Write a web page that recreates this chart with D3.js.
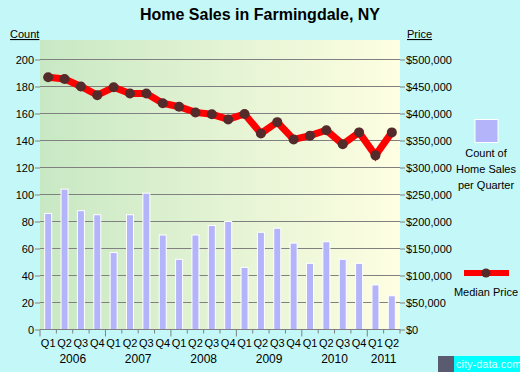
<!DOCTYPE html>
<html>
<head>
<meta charset="utf-8">
<script src="https://cdn.jsdelivr.net/npm/d3@7"></script>
<style>
  html, body { margin: 0; padding: 0; background: #c4f8f8; }
  svg { display: block; font-family: "Liberation Sans", Arimo, sans-serif; }
</style>
</head>
<body>
<svg id="chart" width="520" height="372"></svg>
<script>
const years = ['2006', '2007', '2008', '2009', '2010', '2011'];
const periods = [
  '2006Q1', '2006Q2', '2006Q3', '2006Q4',
  '2007Q1', '2007Q2', '2007Q3', '2007Q4',
  '2008Q1', '2008Q2', '2008Q3', '2008Q4',
  '2009Q1', '2009Q2', '2009Q3', '2009Q4',
  '2010Q1', '2010Q2', '2010Q3', '2010Q4',
  '2011Q1', '2011Q2'
];
const salesCount = [86, 104, 88, 85, 57, 85, 101, 70, 52, 70, 77, 80,
  46, 72, 75, 64, 49, 65, 52, 49, 33, 25];
const medianPrice = [467000, 464000, 450000, 434000, 448500, 437000, 437000, 419000,
  412500, 402000, 398500, 389000, 399000, 363000, 384000, 352000, 359000, 369000,
  343000, 365000, 322500, 365000];
const countTicks = [0, 20, 40, 60, 80, 100, 120, 140, 160, 180, 200];
const priceTicks = [0, 50000, 100000, 150000, 200000, 250000, 300000, 350000, 400000, 450000, 500000];

const svg = d3.select('#chart');
const plot = {left: 40, right: 400, top: 40, bottom: 329.5};

const x = d3.scaleBand()
  .domain(periods)
  .range([plot.left, plot.right]);

const y = d3.scaleLinear()
  .domain([0, 200])
  .range([plot.bottom, 59.5]);

const yPrice = d3.scaleLinear()
  .domain([0, 500000])
  .range([plot.bottom, 59.5]);

// background gradient
const defs = svg.append('defs');
const grad = defs.append('linearGradient').attr('id', 'bg').attr('x1', 0).attr('x2', 1).attr('y1', 0).attr('y2', 0);
grad.append('stop').attr('offset', '0%').attr('stop-color', '#c8e8c4');
grad.append('stop').attr('offset', '100%').attr('stop-color', '#fefee2');

svg.append('rect')
  .attr('x', plot.left)
  .attr('y', plot.top)
  .attr('width', plot.right - plot.left)
  .attr('height', plot.bottom - plot.top)
  .style('fill', 'url(#bg)');

// title
svg.append('text')
  .attr('x', 260)
  .attr('y', 20)
  .attr('text-anchor', 'middle')
  .style('font-size', '16px')
  .style('font-weight', 'bold')
  .text('Home Sales in Farmingdale, NY');

svg.append('text').attr('x', 10).attr('y', 38).style('font-size', '11px')
  .style('text-decoration', 'underline').text('Count');
svg.append('text').attr('x', 407).attr('y', 38).style('font-size', '11px')
  .style('text-decoration', 'underline').text('Price');

// left axis
const leftAxis = d3.axisLeft(y).tickValues(countTicks).tickSize(5).tickPadding(1);
const gl = svg.append('g').attr('transform', 'translate(' + plot.left + ',0)').call(leftAxis);
gl.select('.domain').remove();
gl.selectAll('line').attr('stroke', '#808080');
gl.selectAll('text').style('font-size', '11px').attr('fill', '#000');

// right axis
const rightAxis = d3.axisRight(yPrice).tickValues(priceTicks).tickSize(5).tickPadding(1)
  .tickFormat(d => '$' + d3.format(',')(d));
const gr = svg.append('g').attr('transform', 'translate(' + plot.right + ',0)').call(rightAxis);
gr.select('.domain').remove();
gr.selectAll('line').attr('stroke', '#808080');
gr.selectAll('text').style('font-size', '11px').attr('fill', '#000');

// grid lines
svg.append('g').selectAll('line')
  .data(countTicks.slice(1))
  .enter().append('line')
  .attr('x1', plot.left)
  .attr('x2', plot.right)
  .attr('y1', d => y(d))
  .attr('y2', d => y(d))
  .attr('stroke', '#808080')
  .attr('stroke-width', 1.2);

// bars
const barW = 7;
svg.append('g').selectAll('rect')
  .data(salesCount)
  .enter().append('rect')
  .attr('x', (d, i) => x(periods[i]) + x.bandwidth() / 2 - barW / 2)
  .attr('y', d => y(d))
  .attr('width', barW)
  .attr('height', d => y(0) - y(d))
  .style('fill', '#b4b4fa')
  .style('stroke', '#ffffff')
  .style('stroke-width', 1);

// baseline
svg.append('line')
  .attr('x1', plot.left).attr('x2', plot.right)
  .attr('y1', y(0)).attr('y2', y(0))
  .attr('stroke', '#808080').attr('stroke-width', 1.2);

// x ticks at quarter boundaries
const bounds = periods.map(p => x(p)).concat([plot.right]);
svg.append('g').selectAll('line')
  .data(bounds)
  .enter().append('line')
  .attr('x1', d => d).attr('x2', d => d)
  .attr('y1', y(0))
  .attr('y2', (d, i) => y(0) + (i % 4 === 0 ? 7 : 4))
  .attr('stroke', '#808080');

// quarter labels
svg.append('g').selectAll('text')
  .data(periods)
  .enter().append('text')
  .attr('x', d => x(d) + x.bandwidth() / 2)
  .attr('y', 347)
  .attr('text-anchor', 'middle')
  .style('font-size', '11px')
  .text(d => d.slice(4));

// year labels
svg.append('g').selectAll('text')
  .data(years)
  .enter().append('text')
  .attr('x', d => {
    const qs = periods.filter(p => p.startsWith(d));
    return (x(qs[0]) + x(qs[qs.length - 1]) + x.bandwidth()) / 2;
  })
  .attr('y', 363)
  .attr('text-anchor', 'middle')
  .style('font-size', '12px')
  .text(d => d);

// price line
const line = d3.line()
  .x((d, i) => x(periods[i]) + x.bandwidth() / 2)
  .y(d => yPrice(d));

svg.append('path')
  .datum(medianPrice)
  .attr('d', line)
  .attr('fill', 'none')
  .attr('stroke', '#ff0000')
  .attr('stroke-width', 7)
  .attr('stroke-linejoin', 'miter');

svg.append('g').selectAll('circle')
  .data(medianPrice)
  .enter().append('circle')
  .attr('cx', (d, i) => x(periods[i]) + x.bandwidth() / 2)
  .attr('cy', d => yPrice(d))
  .attr('r', 5)
  .style('fill', '#552a2a');

// legend
svg.append('rect')
  .attr('x', 475).attr('y', 119.5)
  .attr('width', 23).attr('height', 23)
  .style('fill', '#b4b4fa').style('stroke', '#fff');
['Count of', 'Home Sales', 'per Quarter'].forEach((t, i) => {
  svg.append('text')
    .attr('x', 486).attr('y', 157 + 16 * i)
    .attr('text-anchor', 'middle')
    .style('font-size', '11px')
    .text(t);
});
svg.append('line')
  .attr('x1', 464).attr('x2', 509)
  .attr('y1', 273).attr('y2', 273)
  .attr('stroke', '#ff0000').attr('stroke-width', 6);
svg.append('circle').attr('cx', 486).attr('cy', 273).attr('r', 4.5).style('fill', '#552a2a');
svg.append('text')
  .attr('x', 486).attr('y', 296)
  .attr('text-anchor', 'middle')
  .style('font-size', '11px')
  .text('Median Price');

// watermark
svg.append('rect').attr('x', 438).attr('y', 356).attr('width', 16).attr('height', 16).style('fill', '#5a5a70');
svg.append('rect').attr('x', 454).attr('y', 356).attr('width', 66).attr('height', 16).style('fill', '#00ffff');
svg.append('text')
  .attr('x', 456).attr('y', 368)
  .style('font-size', '11px')
  .attr('fill', '#e8ffff')
  .text('city-data.com');
</script>
</body>
</html>
